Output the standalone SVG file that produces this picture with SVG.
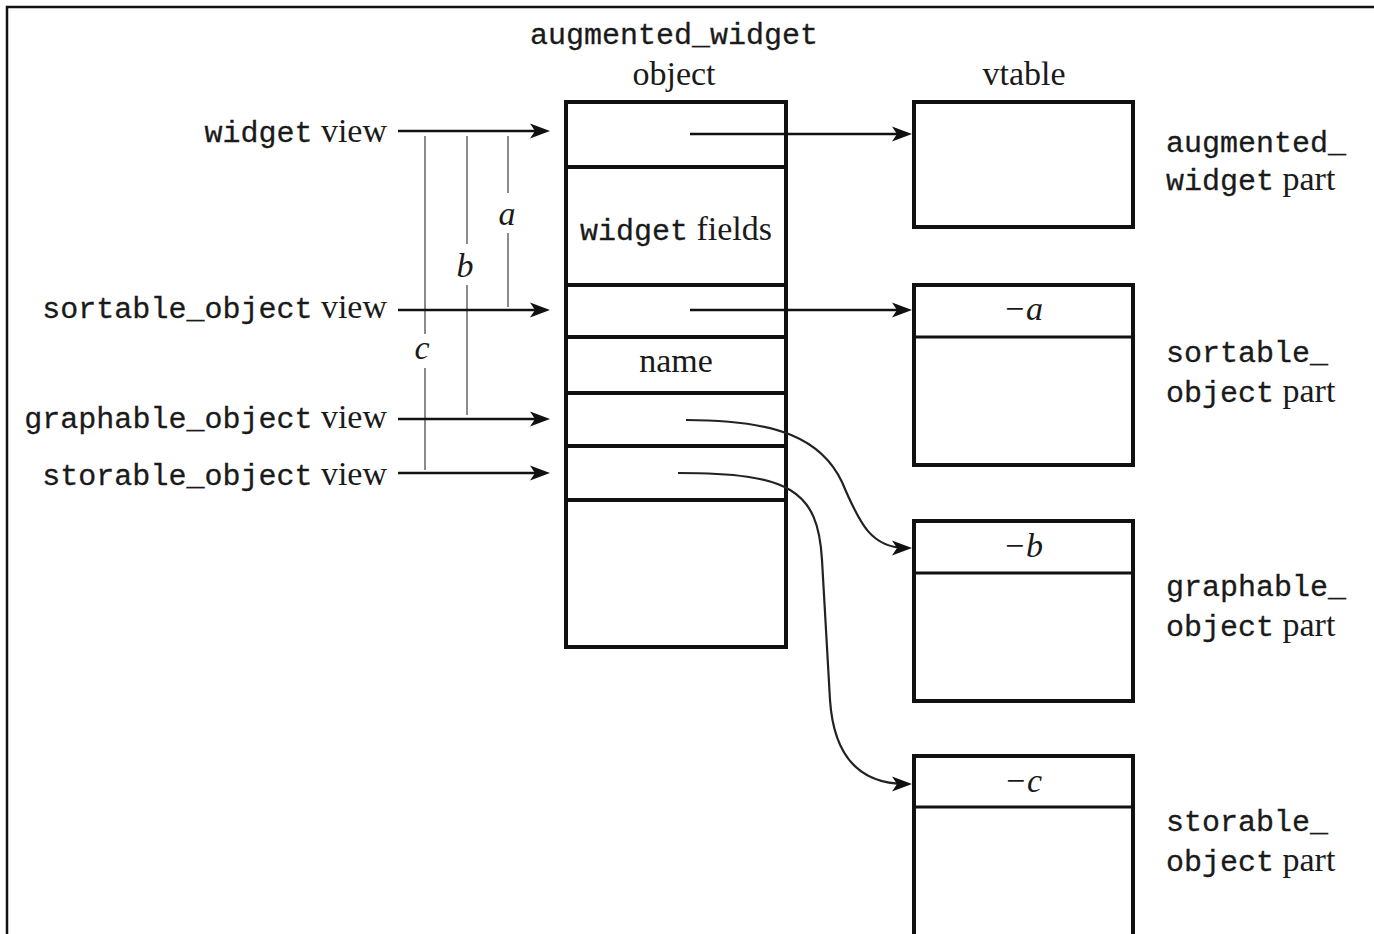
<svg xmlns="http://www.w3.org/2000/svg" width="1374" height="934" viewBox="0 0 1374 934">
  <style>
    .mono { font-family: "Liberation Mono", "DejaVu Sans Mono", monospace; font-size: 30px; fill: #1a1a1a; stroke: #1a1a1a; stroke-width: 0.3; }
    .serif { font-family: "Liberation Serif", "DejaVu Serif", serif; font-size: 34px; fill: #1a1a1a; }
    .ital { font-family: "Liberation Serif", "DejaVu Serif", serif; font-size: 34px; font-style: italic; fill: #1a1a1a; }
    .box { fill: #fff; stroke: #111; stroke-width: 4; }
    .sep { stroke: #111; stroke-width: 4; }
    .sep3 { stroke: #111; stroke-width: 3; }
    .ptr { fill: none; stroke: #111; stroke-width: 2.5; marker-end: url(#head); }
    .curve { fill: none; stroke: #222; stroke-width: 2.2; marker-end: url(#head); }
    .dim { fill: none; stroke: #8a8a8a; stroke-width: 2; }
  </style>
  <defs>
    <marker id="head" viewBox="0 0 20 16" refX="14" refY="8" markerWidth="20" markerHeight="16" markerUnits="userSpaceOnUse" orient="auto">
      <path d="M0,0.5 L20,8 L0,15.5 L5,8 z" fill="#111"/>
    </marker>
  </defs>

  <rect width="1374" height="934" fill="#fff"/>
  <!-- outer frame (right and bottom edges run off the page) -->
  <rect x="7" y="7" width="1400" height="1000" fill="none" stroke="#111" stroke-width="2.5"/>

  <!-- headings -->
  <text class="mono" x="674" y="44" text-anchor="middle">augmented_widget</text>
  <text class="serif" x="674" y="85" text-anchor="middle">object</text>
  <text class="serif" x="1024" y="85" text-anchor="middle">vtable</text>

  <!-- the augmented_widget object layout -->
  <g id="object">
    <rect class="box" x="566" y="102" width="220" height="545"/>
    <line class="sep" x1="566" y1="167" x2="786" y2="167"/>
    <line class="sep" x1="566" y1="285" x2="786" y2="285"/>
    <line class="sep" x1="566" y1="337" x2="786" y2="337"/>
    <line class="sep" x1="566" y1="393" x2="786" y2="393"/>
    <line class="sep" x1="566" y1="446" x2="786" y2="446"/>
    <line class="sep" x1="566" y1="500" x2="786" y2="500"/>
    <text x="676" y="240" text-anchor="middle"><tspan class="mono">widget</tspan><tspan class="serif"> fields</tspan></text>
    <text class="serif" x="676" y="372" text-anchor="middle">name</text>
  </g>

  <!-- vtable parts -->
  <g id="vt-augmented">
    <rect class="box" x="914" y="102" width="219" height="125"/>
    <text x="1166" y="152"><tspan class="mono">augmented_</tspan></text>
    <text x="1166" y="190"><tspan class="mono">widget</tspan><tspan class="serif"> part</tspan></text>
  </g>
  <g id="vt-sortable">
    <rect class="box" x="914" y="285" width="219" height="180"/>
    <line class="sep3" x1="914" y1="337" x2="1133" y2="337"/>
    <text class="ital" x="1023" y="320" text-anchor="middle">−a</text>
    <text x="1166" y="362"><tspan class="mono">sortable_</tspan></text>
    <text x="1166" y="402"><tspan class="mono">object</tspan><tspan class="serif"> part</tspan></text>
  </g>
  <g id="vt-graphable">
    <rect class="box" x="914" y="521" width="219" height="180"/>
    <line class="sep3" x1="914" y1="573" x2="1133" y2="573"/>
    <text class="ital" x="1023" y="557" text-anchor="middle">−b</text>
    <text x="1166" y="596"><tspan class="mono">graphable_</tspan></text>
    <text x="1166" y="636"><tspan class="mono">object</tspan><tspan class="serif"> part</tspan></text>
  </g>
  <g id="vt-storable">
    <rect class="box" x="914" y="756" width="219" height="260"/>
    <line class="sep3" x1="914" y1="807" x2="1133" y2="807"/>
    <text class="ital" x="1023" y="792" text-anchor="middle">−c</text>
    <text x="1166" y="831"><tspan class="mono">storable_</tspan></text>
    <text x="1166" y="871"><tspan class="mono">object</tspan><tspan class="serif"> part</tspan></text>
  </g>

  <!-- view labels -->
  <g id="views">
    <text x="387" y="142" text-anchor="end"><tspan class="mono">widget</tspan><tspan class="serif"> view</tspan></text>
    <text x="387" y="318" text-anchor="end"><tspan class="mono">sortable_object</tspan><tspan class="serif"> view</tspan></text>
    <text x="387" y="428" text-anchor="end"><tspan class="mono">graphable_object</tspan><tspan class="serif"> view</tspan></text>
    <text x="387" y="485" text-anchor="end"><tspan class="mono">storable_object</tspan><tspan class="serif"> view</tspan></text>
  </g>

  <!-- offset measures a, b, c -->
  <g id="offsets">
    <path class="dim" d="M508,136 V193 M508,233 V307"/>
    <path class="dim" d="M467,136 V244 M467,285 V415"/>
    <path class="dim" d="M425,136 V334 M425,368 V470"/>
    <text class="ital" x="507" y="225" text-anchor="middle">a</text>
    <text class="ital" x="465" y="277" text-anchor="middle">b</text>
    <text class="ital" x="422" y="359" text-anchor="middle">c</text>
  </g>

  <!-- connectors -->
  <g id="connectors">
    <line class="ptr" x1="398" y1="131" x2="544" y2="131"/>
    <line class="ptr" x1="398" y1="310" x2="544" y2="310"/>
    <line class="ptr" x1="398" y1="419" x2="544" y2="419"/>
    <line class="ptr" x1="398" y1="473" x2="544" y2="473"/>
    <line class="ptr" x1="690" y1="134" x2="906" y2="134"/>
    <line class="ptr" x1="690" y1="310" x2="906" y2="310"/>
    <path class="curve" d="M686,420 C780,420 822,440 842,482 C860,525 872,548 906,548"/>
    <path class="curve" d="M678,473 C790,473 818,490 822,560 L830,700 C834,760 862,784 906,784"/>
  </g>
</svg>
